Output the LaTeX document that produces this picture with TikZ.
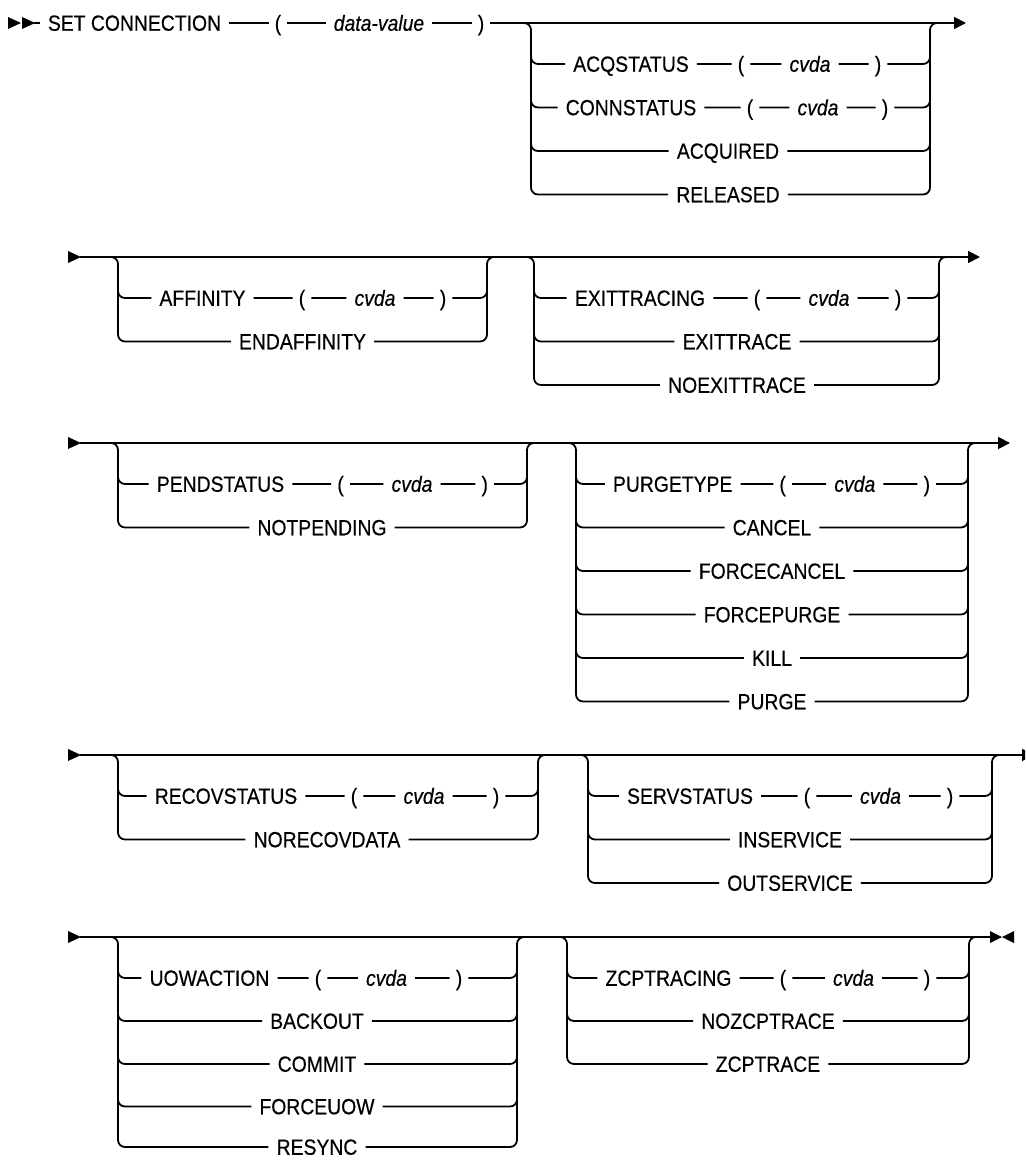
\documentclass[tikz,border=0pt]{standalone}
\usepackage{fontspec}
\setmainfont{Liberation Sans}[FakeStretch=0.88,FakeBold=0.4]
\usetikzlibrary{arrows.meta,calc}
\tikzset{
  rail/.style={line width=1.8pt, rounded corners=7pt},
  tok/.style={inner xsep=8pt, inner ysep=0pt, text height=15.5pt, text depth=0pt, font=\fontsize{22}{25}\selectfont},
  kw/.style={tok},
  var/.style={tok, font=\fontsize{22}{25}\selectfont\itshape},
  par/.style={tok, inner xsep=6pt},
  endtip/.style={-{Triangle[length=12pt,width=12pt]}},
}
\newcommand\railgrp[4]{%
  \coordinate (#1L) at (#2,#4);
  \coordinate (#1R) at (#3,#4);
  \coordinate (#1La) at (#2,#4+10);
  \coordinate (#1Ra) at (#3,#4+10);
  \draw[rail] ($(#1L)+(-10,0)$) -- (#1L) -- ($(#1L)+(0,16)$);
  \draw[rail] ($(#1R)+(10,0)$) -- (#1R) -- ($(#1R)+(0,16)$);
}
\newcommand\starttri[2]{\fill (#1,#2-6) -- (#1+13,#2) -- (#1,#2+6) -- cycle;}
\begin{document}
\begin{tikzpicture}[x=1pt,y=-1pt]
\useasboundingbox (0,0) rectangle (1025,1161);
\fill[white] (0,0) rectangle (1025,1161);
\clip (0,0) rectangle (1025,1161);

% ---------- Row 1 ----------
\starttri{8}{23}
\starttri{22}{23}
\coordinate (s1) at (34,23);
\node[kw] (set) at (134.5,23) {SET CONNECTION};
\node[par] (lp0) at (278,23) {(};
\node[var] (dv) at (379,23) {data-value};
\node[par] (rp0) at (481,23) {)};
\railgrp{ga}{531}{930}{23}
\coordinate (e1) at (966,23);
\draw[rail] (s1) -- (set) -- (lp0) -- (dv) -- (rp0) -- (gaL);
\draw[rail,endtip] (gaL) -- (gaR) -- (e1);

\node[kw] (acqs) at (631,64) {ACQSTATUS};
\node[par] (lp1) at (741,64) {(};
\node[var] (cv1) at (810,64) {cvda};
\node[par] (rp1) at (878,64) {)};
\draw[rail] (gaLa) |- (acqs) -- (lp1) -- (cv1) -- (rp1) -| (gaRa);

\node[kw] (conns) at (631,107.5) {CONNSTATUS};
\node[par] (lp1b) at (750,107.5) {(};
\node[var] (cv1b) at (818,107.5) {cvda};
\node[par] (rp1b) at (885,107.5) {)};
\draw[rail] (gaLa) |- (conns) -- (lp1b) -- (cv1b) -- (rp1b) -| (gaRa);

\node[kw] (acqd) at (728,151) {ACQUIRED};
\draw[rail] (gaLa) |- (acqd) -| (gaRa);
\node[kw] (rel) at (728,194.5) {RELEASED};
\draw[rail] (gaLa) |- (rel) -| (gaRa);

% ---------- Row 2 ----------
\starttri{68}{257}
\coordinate (s2) at (80,257);
\railgrp{gb}{118}{487}{257}
\railgrp{gc}{534}{939}{257}
\coordinate (e2) at (980,257);
\draw[rail,endtip] (s2) -- (gbL) -- (gbR) -- (gcL) -- (gcR) -- (e2);

\node[kw] (aff) at (202.5,298) {AFFINITY};
\node[par] (lp2) at (302,298) {(};
\node[var] (cv2) at (375,298) {cvda};
\node[par] (rp2) at (443,298) {)};
\draw[rail] (gbLa) |- (aff) -- (lp2) -- (cv2) -- (rp2) -| (gbRa);
\node[kw] (endaff) at (302.5,341.5) {ENDAFFINITY};
\draw[rail] (gbLa) |- (endaff) -| (gbRa);

\node[kw] (exitg) at (640,298) {EXITTRACING};
\node[par] (lp3) at (757,298) {(};
\node[var] (cv3) at (829,298) {cvda};
\node[par] (rp3) at (898,298) {)};
\draw[rail] (gcLa) |- (exitg) -- (lp3) -- (cv3) -- (rp3) -| (gcRa);
\node[kw] (exitt) at (737,341.5) {EXITTRACE};
\draw[rail] (gcLa) |- (exitt) -| (gcRa);
\node[kw] (noexit) at (737,385) {NOEXITTRACE};
\draw[rail] (gcLa) |- (noexit) -| (gcRa);

% ---------- Row 3 ----------
\starttri{68}{443}
\coordinate (s3) at (80,443);
\railgrp{gd}{118}{527}{443}
\railgrp{ge}{576}{968}{443}
\coordinate (e3) at (1010,443);
\draw[rail,endtip] (s3) -- (gdL) -- (gdR) -- (geL) -- (geR) -- (e3);

\node[kw] (pend) at (220.5,484) {PENDSTATUS};
\node[par] (lp4) at (340.6,484) {(};
\node[var] (cv4) at (412,484) {cvda};
\node[par] (rp4) at (484.7,484) {)};
\draw[rail] (gdLa) |- (pend) -- (lp4) -- (cv4) -- (rp4) -| (gdRa);
\node[kw] (notp) at (322,527.5) {NOTPENDING};
\draw[rail] (gdLa) |- (notp) -| (gdRa);

\node[kw] (purgt) at (672.7,484) {PURGETYPE};
\node[par] (lp5) at (782.7,484) {(};
\node[var] (cv5) at (854.8,484) {cvda};
\node[par] (rp5) at (926.8,484) {)};
\draw[rail] (geLa) |- (purgt) -- (lp5) -- (cv5) -- (rp5) -| (geRa);
\node[kw] (cancel) at (772,527.5) {CANCEL};
\draw[rail] (geLa) |- (cancel) -| (geRa);
\node[kw] (fcancel) at (772,571) {FORCECANCEL};
\draw[rail] (geLa) |- (fcancel) -| (geRa);
\node[kw] (fpurge) at (772,614.5) {FORCEPURGE};
\draw[rail] (geLa) |- (fpurge) -| (geRa);
\node[kw] (kill) at (772,658) {KILL};
\draw[rail] (geLa) |- (kill) -| (geRa);
\node[kw] (purge) at (772,701.5) {PURGE};
\draw[rail] (geLa) |- (purge) -| (geRa);

% ---------- Row 4 ----------
\starttri{68}{755}
\coordinate (s4) at (80,755);
\railgrp{gf}{118}{538}{755}
\railgrp{gg}{588}{992}{755}
\coordinate (e4) at (1034,755);
\draw[rail,endtip] (s4) -- (gfL) -- (gfR) -- (ggL) -- (ggR) -- (e4);

\node[kw] (recov) at (226,796) {RECOVSTATUS};
\node[par] (lp6) at (354,796) {(};
\node[var] (cv6) at (424,796) {cvda};
\node[par] (rp6) at (496,796) {)};
\draw[rail] (gfLa) |- (recov) -- (lp6) -- (cv6) -- (rp6) -| (gfRa);
\node[kw] (norecov) at (327,839.5) {NORECOVDATA};
\draw[rail] (gfLa) |- (norecov) -| (gfRa);

\node[kw] (serv) at (690,796) {SERVSTATUS};
\node[par] (lp7) at (807,796) {(};
\node[var] (cv7) at (880.5,796) {cvda};
\node[par] (rp7) at (950,796) {)};
\draw[rail] (ggLa) |- (serv) -- (lp7) -- (cv7) -- (rp7) -| (ggRa);
\node[kw] (inserv) at (790,839.5) {INSERVICE};
\draw[rail] (ggLa) |- (inserv) -| (ggRa);
\node[kw] (outserv) at (790,883) {OUTSERVICE};
\draw[rail] (ggLa) |- (outserv) -| (ggRa);

% ---------- Row 5 ----------
\starttri{68}{937}
\coordinate (s5) at (80,937);
\railgrp{gh}{118}{517}{937}
\railgrp{gi}{567}{969}{937}
\coordinate (e5) at (990,937);
\draw[rail] (s5) -- (ghL) -- (ghR) -- (giL) -- (giR) -- (e5);
\fill (990,931) -- (1002,937) -- (990,943) -- cycle;
\fill (1014,931) -- (1002,937) -- (1014,943) -- cycle;

\node[kw] (uow) at (209.5,978) {UOWACTION};
\node[par] (lp8) at (318,978) {(};
\node[var] (cv8) at (386.5,978) {cvda};
\node[par] (rp8) at (459,978) {)};
\draw[rail] (ghLa) |- (uow) -- (lp8) -- (cv8) -- (rp8) -| (ghRa);
\node[kw] (backout) at (317,1021) {BACKOUT};
\draw[rail] (ghLa) |- (backout) -| (ghRa);
\node[kw] (commit) at (317,1064) {COMMIT};
\draw[rail] (ghLa) |- (commit) -| (ghRa);
\node[kw] (forceuow) at (317,1106.5) {FORCEUOW};
\draw[rail] (ghLa) |- (forceuow) -| (ghRa);
\node[kw] (resync) at (317,1147) {RESYNC};
\draw[rail] (ghLa) |- (resync) -| (ghRa);

\node[kw] (zcp) at (668.5,978) {ZCPTRACING};
\node[par] (lp9) at (783,978) {(};
\node[var] (cv9) at (853.5,978) {cvda};
\node[par] (rp9) at (927,978) {)};
\draw[rail] (giLa) |- (zcp) -- (lp9) -- (cv9) -- (rp9) -| (giRa);
\node[kw] (nozcp) at (768,1021) {NOZCPTRACE};
\draw[rail] (giLa) |- (nozcp) -| (giRa);
\node[kw] (zcpt) at (768,1064) {ZCPTRACE};
\draw[rail] (giLa) |- (zcpt) -| (giRa);
\end{tikzpicture}
\end{document}
